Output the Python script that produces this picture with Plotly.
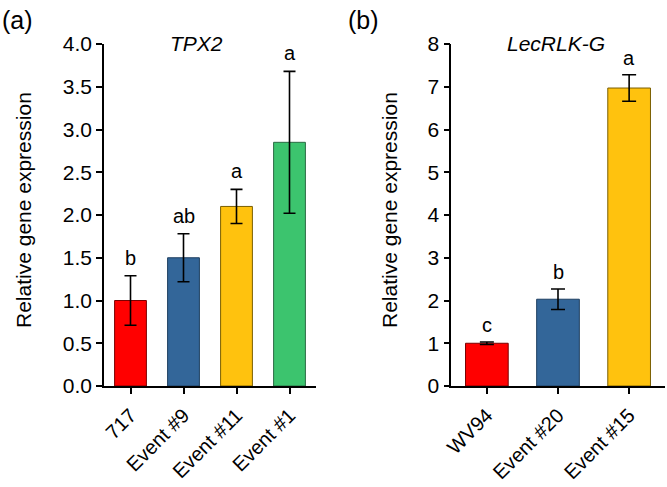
import plotly.graph_objects as go

W, H = 667, 487

# Panel (a) TPX2
a_cats = ["717", "Event #9", "Event #11", "Event #1"]
a_vals = [1.00, 1.50, 2.10, 2.85]
a_errs = [0.29, 0.28, 0.20, 0.83]
a_letters = ["b", "ab", "a", "a"]
a_colors = ["#FF0000", "#336699", "#FFC20E", "#3CC46E"]
a_lines = ["#7A0000", "#1E3F60", "#7A5E00", "#2A6B44"]

# Panel (b) LecRLK-G
b_cats = ["WV94", "Event #20", "Event #15"]
b_vals = [1.00, 2.03, 6.97]
b_errs = [0.03, 0.24, 0.31]
b_letters = ["c", "b", "a"]
b_colors = ["#FF0000", "#336699", "#FFC20E"]
b_lines = ["#7A0000", "#1E3F60", "#7A5E00"]

a_yticks = [0.0, 0.5, 1.0, 1.5, 2.0, 2.5, 3.0, 3.5, 4.0]
b_yticks = [0, 1, 2, 3, 4, 5, 6, 7, 8]

FONT = "Liberation Sans, Arial, sans-serif"

fig = go.Figure()

fig.add_trace(go.Bar(
    x=list(range(len(a_cats))), y=a_vals, width=0.6,
    marker=dict(color=a_colors, line=dict(color=a_lines, width=1)),
    error_y=dict(type="data", array=a_errs, color="black", thickness=1.6, width=6),
    xaxis="x", yaxis="y", showlegend=False, hoverinfo="skip"))

fig.add_trace(go.Bar(
    x=list(range(len(b_cats))), y=b_vals, width=0.6,
    marker=dict(color=b_colors, line=dict(color=b_lines, width=1)),
    error_y=dict(type="data", array=b_errs, color="black", thickness=1.6, width=7),
    xaxis="x2", yaxis="y2", showlegend=False, hoverinfo="skip"))

ax_common = dict(showline=True, linecolor="black", linewidth=1.6, ticks="outside",
                 ticklen=6, tickwidth=1.6, tickcolor="black", showgrid=False, zeroline=False,
                 automargin=False)

yfont = dict(family=FONT, size=21, color="black")
xfont = dict(family=FONT, size=20, color="black")

y0 = (H - 386) / H
y1 = (H - 44) / H

fig.update_layout(
    width=W, height=H, margin=dict(l=0, r=0, t=0, b=0, autoexpand=False),
    paper_bgcolor="white", plot_bgcolor="white",
    xaxis=dict(domain=[104 / W, 316 / W], range=[-0.5, 3.5], tickvals=list(range(len(a_cats))),
               ticktext=a_cats, tickangle=-45, anchor="y", ticklabelstandoff=2,
               tickfont=xfont, **ax_common),
    yaxis=dict(domain=[y0, y1], range=[0, 4.0], tickvals=a_yticks,
               ticktext=[f"{v:.1f}" for v in a_yticks], anchor="x", tickfont=yfont, **ax_common),
    xaxis2=dict(domain=[451.3 / W, 664.7 / W], range=[-0.5, 2.5], tickvals=list(range(len(b_cats))),
                ticktext=b_cats, tickangle=-45, anchor="y2", ticklabelstandoff=2,
                tickfont=xfont, **ax_common),
    yaxis2=dict(domain=[y0, y1], range=[0, 8], tickvals=b_yticks,
                ticktext=[str(v) for v in b_yticks], anchor="x2", tickfont=yfont, **ax_common),
)

ann = []
for i, (v, e, t) in enumerate(zip(a_vals, a_errs, a_letters)):
    ann.append(dict(x=i, y=v + e, xref="x", yref="y", text=t, showarrow=False,
                    yanchor="middle", yshift=18, font=dict(family=FONT, size=20, color="black")))
for i, (v, e, t) in enumerate(zip(b_vals, b_errs, b_letters)):
    ann.append(dict(x=i, y=v + e, xref="x2", yref="y2", text=t, showarrow=False,
                    yanchor="middle", yshift=17, font=dict(family=FONT, size=20, color="black")))

def px(xp, yp):
    return xp / W, 1 - yp / H

for text, (xp, yp), size, angle in [
    ("(a)", (17, 20), 25, 0),
    ("(b)", (363, 20), 25, 0),
    ("<i>TPX2</i>", (196, 43), 21, 0),
    ("<i>LecRLK-G</i>", (556, 43), 21, 0),
    ("Relative gene expression", (23, 210), 21, -90),
    ("Relative gene expression", (389, 210), 21, -90),
]:
    xx, yy = px(xp, yp)
    ann.append(dict(x=xx, y=yy, xref="paper", yref="paper", text=text, showarrow=False,
                    xanchor="center", yanchor="middle", textangle=angle,
                    font=dict(family=FONT, size=size, color="black")))

fig.update_layout(annotations=ann)
fig.write_html("out.html", config={"displayModeBar": False},
               post_script="document.body.style.margin='0';document.body.style.overflow='hidden';")
